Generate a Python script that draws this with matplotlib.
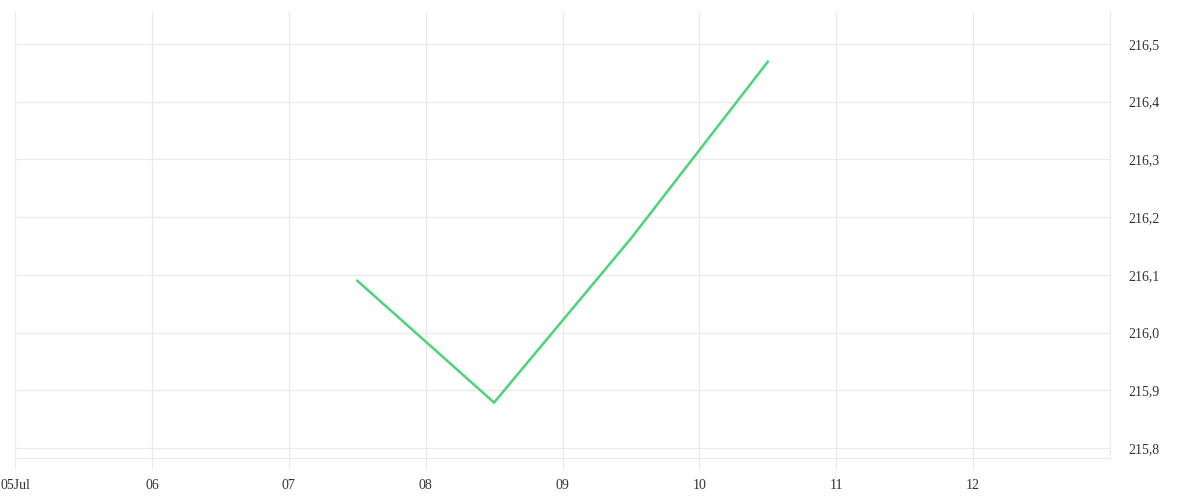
import matplotlib
matplotlib.use("Agg")
import matplotlib.pyplot as plt
import matplotlib.dates as mdates
from matplotlib.ticker import FuncFormatter
from datetime import datetime, timedelta

# Data
times = ["2024-07-07 12:00", "2024-07-08 12:00", "2024-07-09 12:00", "2024-07-10 12:00"]
values = [216.09, 215.879, 216.163, 216.469]
tick_days = ["2024-07-05", "2024-07-06", "2024-07-07", "2024-07-08",
             "2024-07-09", "2024-07-10", "2024-07-11", "2024-07-12"]
tick_labels = ["05Jul", "06", "07", "08", "09", "10", "11", "12"]
y_ticks = [215.8, 215.9, 216.0, 216.1, 216.2, 216.3, 216.4, 216.5]

plt.rcParams['font.family'] = ['Liberation Serif', 'DejaVu Serif']
fig = plt.figure(figsize=(12, 5), dpi=100)
ax = fig.add_axes([15/1200, 42/500, 1095/1200, 446/500])

x = [datetime.strptime(t, "%Y-%m-%d %H:%M") for t in times]
ax.plot(x, values, color="#4cd47a", lw=1.8, solid_joinstyle="miter")

xt = [datetime.strptime(t, "%Y-%m-%d") for t in tick_days]
ax.set_xlim(xt[0], xt[0] + timedelta(days=8))
ax.set_xticks(mdates.date2num(xt))
ax.set_xticklabels(tick_labels)
ax.set_ylim(215.783, 216.555)
ax.set_yticks(y_ticks)
ax.yaxis.set_major_formatter(FuncFormatter(lambda v, p: f"{v:.1f}".replace(".", ",")))
ax.yaxis.tick_right()

gc = "#ebebeb"
ax.grid(True, color=gc, lw=1)
ax.set_axisbelow(True)
for s in ["left", "top"]:
    ax.spines[s].set_visible(False)
ax.spines["right"].set_color(gc)
ax.spines["bottom"].set_color(gc)
ax.tick_params(axis="x", length=8, color=gc, labelsize=10, labelcolor="#333333", pad=7)
ax.tick_params(axis="y", length=0, labelsize=10, labelcolor="#333333", pad=13)

fig.savefig("out.png", dpi=100, facecolor="white")
